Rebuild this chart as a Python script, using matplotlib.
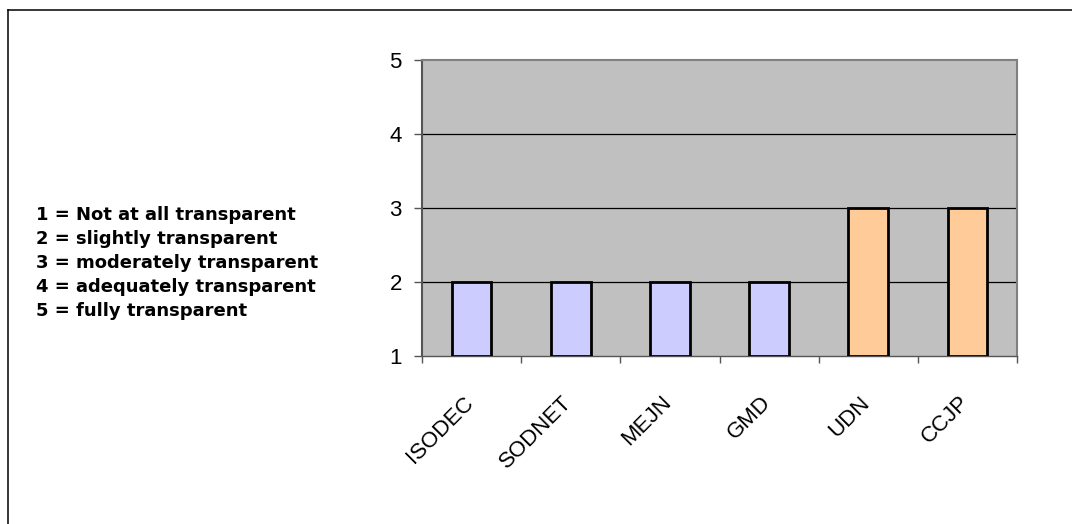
import matplotlib.pyplot as plt
from matplotlib.lines import Line2D

plt.rcParams["font.family"] = ["Liberation Sans", "DejaVu Sans"]

categories = ["ISODEC", "SODNET", "MEJN", "GMD", "UDN", "CCJP"]
scores = [2, 2, 2, 2, 3, 3]
bar_colors = ["#CCCCFF", "#CCCCFF", "#CCCCFF", "#CCCCFF", "#FFCC99", "#FFCC99"]
y_ticks = [1, 2, 3, 4, 5]
scale_notes = [
    "1 = Not at all transparent",
    "2 = slightly transparent",
    "3 = moderately transparent",
    "4 = adequately transparent",
    "5 = fully transparent",
]

W, H = 1072, 524
fig = plt.figure(figsize=(W / 100, H / 100), dpi=100)
# frame: only the left and top edges are inside the picture
fig.lines.append(Line2D([8 / W, 8 / W], [0, 1 - 10 / H], transform=fig.transFigure,
                        color="black", linewidth=1.1))
fig.lines.append(Line2D([8 / W, 1], [1 - 10 / H, 1 - 10 / H], transform=fig.transFigure,
                        color="black", linewidth=1.1))

ax = fig.add_axes([422 / W, 168 / H, 595 / W, 296 / H])
ax.set_facecolor("#C0C0C0")

x = list(range(len(categories)))
# bars start at the axis floor (1)
ax.bar(x, [s - 1 for s in scores], bottom=1, width=0.4, color=bar_colors,
       edgecolor="black", linewidth=2, zorder=3)

ax.set_xlim(-0.5, len(categories) - 0.5)
ax.set_ylim(1, 5)
ax.set_yticks(y_ticks)
for yv in y_ticks[1:-1]:
    ax.axhline(yv, color="black", linewidth=0.9, zorder=1)

# ticks sit between categories, labels are placed by hand under each bar
ax.set_xticks([i - 0.5 for i in range(len(categories) + 1)])
ax.set_xticklabels([])
for i, cat in enumerate(categories):
    ax.annotate(cat, xy=(i, 0), xycoords=("data", "axes fraction"),
                xytext=(-6.5, -26), textcoords="offset points",
                rotation=45, rotation_mode="anchor", ha="right", va="top",
                fontsize=16, annotation_clip=False)
ax.tick_params(axis="x", which="major", length=5, width=1, color="#555555")
ax.tick_params(axis="y", length=6, width=1, color="#555555", pad=8.5,
               labelsize=16)

for side in ["top", "right"]:
    ax.spines[side].set_color("#808080")
    ax.spines[side].set_linewidth(1.5)
ax.spines["left"].set_color("#555555")
ax.spines["left"].set_linewidth(1.5)
ax.spines["bottom"].set_color("#555555")
ax.spines["bottom"].set_linewidth(1)

for i, note in enumerate(scale_notes):
    fig.text(36 / W, 1 - (215 + i * 24) / H, note, fontsize=13,
             fontweight="bold", family="DejaVu Sans", va="center", ha="left")

fig.savefig("out.png", dpi=100)
